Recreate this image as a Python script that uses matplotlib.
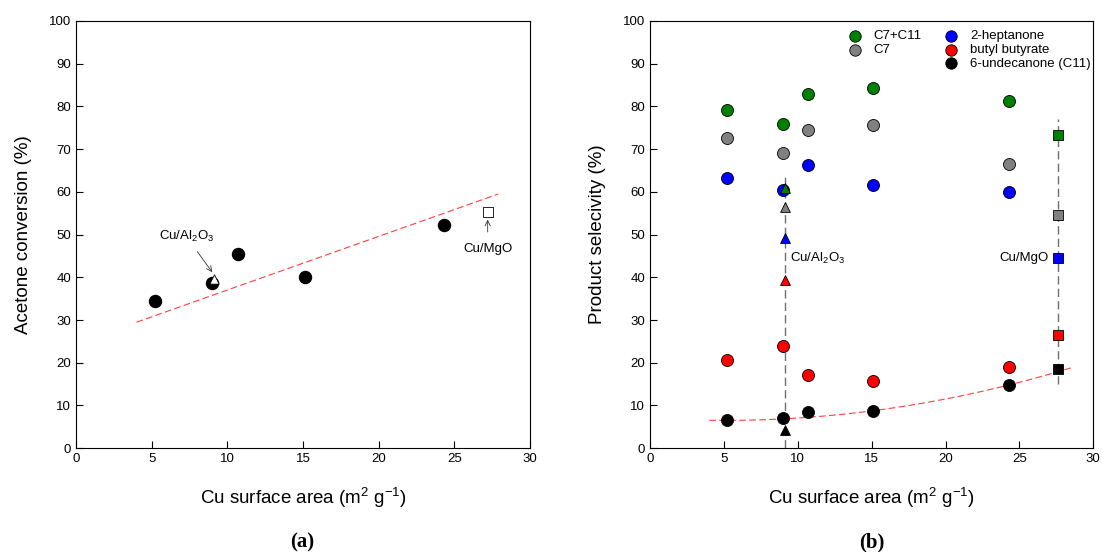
import numpy as np
import matplotlib.pyplot as plt

plt.rcParams['font.family'] = ['Liberation Sans', 'DejaVu Sans']
plt.rcParams['mathtext.fontset'] = 'custom'
plt.rcParams['mathtext.rm'] = 'Liberation Sans'
plt.rcParams['mathtext.it'] = 'Liberation Sans:italic'

# panel (a): acetone conversion vs Cu surface area
area_a = [5.2, 9.0, 10.7, 15.1, 24.3]
conv_a = [34.5, 38.7, 45.5, 40.0, 52.3]
al2o3_area, al2o3_conv = 9.1, 39.6
mgo_area, mgo_conv = 27.2, 55.3
trend_a_x = [4.0, 27.9]
trend_a_y = [29.5, 59.5]

# panel (b): product selectivity
area_b = [5.2, 9.0, 10.7, 15.1, 24.3]
sel = {
    'C7+C11': [79.2, 76.0, 83.0, 84.3, 81.3],
    'C7': [72.6, 69.0, 74.5, 75.7, 66.5],
    '2-heptanone': [63.2, 60.5, 66.2, 61.5, 60.0],
    'butyl butyrate': [20.7, 24.0, 17.1, 15.8, 18.9],
    '6-undecanone (C11)': [6.6, 7.0, 8.5, 8.7, 14.9],
}
sel_al2o3 = {'C7+C11': 61.0, 'C7': 56.5, '2-heptanone': 49.3,
             'butyl butyrate': 39.3, '6-undecanone (C11)': 4.2}
sel_mgo = {'C7+C11': 73.3, 'C7': 54.6, '2-heptanone': 44.5,
           'butyl butyrate': 26.6, '6-undecanone (C11)': 18.6}
colors = {'C7+C11': '#008000', 'C7': '#808080', '2-heptanone': '#0000ff',
          'butyl butyrate': '#ff0000', '6-undecanone (C11)': '#000000'}
trend_b_x = [4.0, 9.0, 15.0, 20.0, 24.3, 28.5]
trend_b_y = [6.4, 7.1, 8.8, 11.3, 14.8, 18.9]
vline_al2o3 = (9.15, 0.0, 64.0)
vline_mgo = (27.6, 15.0, 77.0)

fig = plt.figure(figsize=(11.02, 5.52), dpi=100)
ax1 = fig.add_axes([0.069, 0.188, 0.412, 0.774])
ax2 = fig.add_axes([0.590, 0.188, 0.402, 0.774])

for ax in (ax1, ax2):
    ax.set_xlim(0, 30)
    ax.set_ylim(0, 100)
    ax.set_xticks(range(0, 31, 5))
    ax.set_yticks(range(0, 101, 10))
    ax.tick_params(direction='in', length=5, labelsize=9.5, top=False, right=False)
    ax.set_xlabel('Cu surface area (m$^{2}$ g$^{-1}$)', fontsize=13.5, labelpad=15)

# (a)
ax1.plot(trend_a_x, trend_a_y, ls=(0, (6, 3)), color='#ff4040', lw=0.8)
ax1.scatter(area_a, conv_a, s=75, c='black', zorder=3)
ax1.scatter([al2o3_area], [al2o3_conv], s=45, marker='^', facecolor='white',
            edgecolor='black', linewidth=0.6, zorder=4)
ax1.scatter([mgo_area], [mgo_conv], s=55, marker='s', facecolor='white',
            edgecolor='black', linewidth=0.6, zorder=4)
ax1.annotate('Cu/Al$_2$O$_3$', xy=(9.0, 41.2), xytext=(7.3, 49.5),
             fontsize=9.5, ha='center', va='center',
             arrowprops=dict(arrowstyle='->', lw=0.6, color='#333333',
                             shrinkA=4, shrinkB=0))
ax1.annotate('Cu/MgO', xy=(mgo_area, mgo_conv - 1.8), xytext=(mgo_area, 46.6),
             fontsize=9.5, ha='center', va='center',
             arrowprops=dict(arrowstyle='->', lw=0.6, color='#333333',
                             shrinkA=6, shrinkB=0))
ax1.set_ylabel('Acetone conversion (%)', fontsize=13.5, labelpad=12)

# (b)
coef = np.polyfit(trend_b_x, trend_b_y, 2)
xs = np.linspace(trend_b_x[0], trend_b_x[-1], 100)
ax2.plot(xs, np.polyval(coef, xs), ls=(0, (6, 3)), color='#ff4040', lw=0.8, zorder=2)
for xv, y0, y1 in (vline_al2o3, vline_mgo):
    ax2.plot([xv, xv], [y0, y1], ls=(0, (6, 3)), color='#707070', lw=1.0, zorder=1)

handles = {}
for name, vals in sel.items():
    handles[name] = ax2.scatter(area_b, vals, s=75, c=colors[name],
                                edgecolor='black', linewidth=0.6, zorder=3,
                                label=name)
    ax2.scatter([vline_al2o3[0]], [sel_al2o3[name]], s=50, marker='^',
                c=colors[name], edgecolor='black', linewidth=0.6, zorder=4)
    ax2.scatter([vline_mgo[0]], [sel_mgo[name]], s=50, marker='s',
                c=colors[name], edgecolor='black', linewidth=0.6, zorder=4)

ax2.text(9.5, 44.5, 'Cu/Al$_2$O$_3$', fontsize=9.5, ha='left', va='center')
ax2.text(27.0, 44.5, 'Cu/MgO', fontsize=9.5, ha='right', va='center')
ax2.set_ylabel('Product selecivity (%)', fontsize=13.5, labelpad=12)

blank = plt.Line2D([], [], ls='none', marker='none')
order = ['C7+C11', 'C7', None, '2-heptanone', 'butyl butyrate', '6-undecanone (C11)']
leg_h = [handles[n] if n else blank for n in order]
leg_l = [n if n else '' for n in order]
leg = ax2.legend(leg_h, leg_l, ncol=2, loc='upper right', frameon=False,
                 fontsize=9.5, handletextpad=0.4, columnspacing=1.3,
                 labelspacing=0.1, borderaxespad=0.3, scatterpoints=1,
                 markerscale=0.95, bbox_to_anchor=(1.015, 1.0))

fig.text(0.274, 0.008, '(a)', fontsize=15, fontweight='bold',
         family='Liberation Serif', ha='center')
fig.text(0.791, 0.008, '(b)', fontsize=15, fontweight='bold',
         family='Liberation Serif', ha='center')

fig.savefig('out.png', dpi=100)
